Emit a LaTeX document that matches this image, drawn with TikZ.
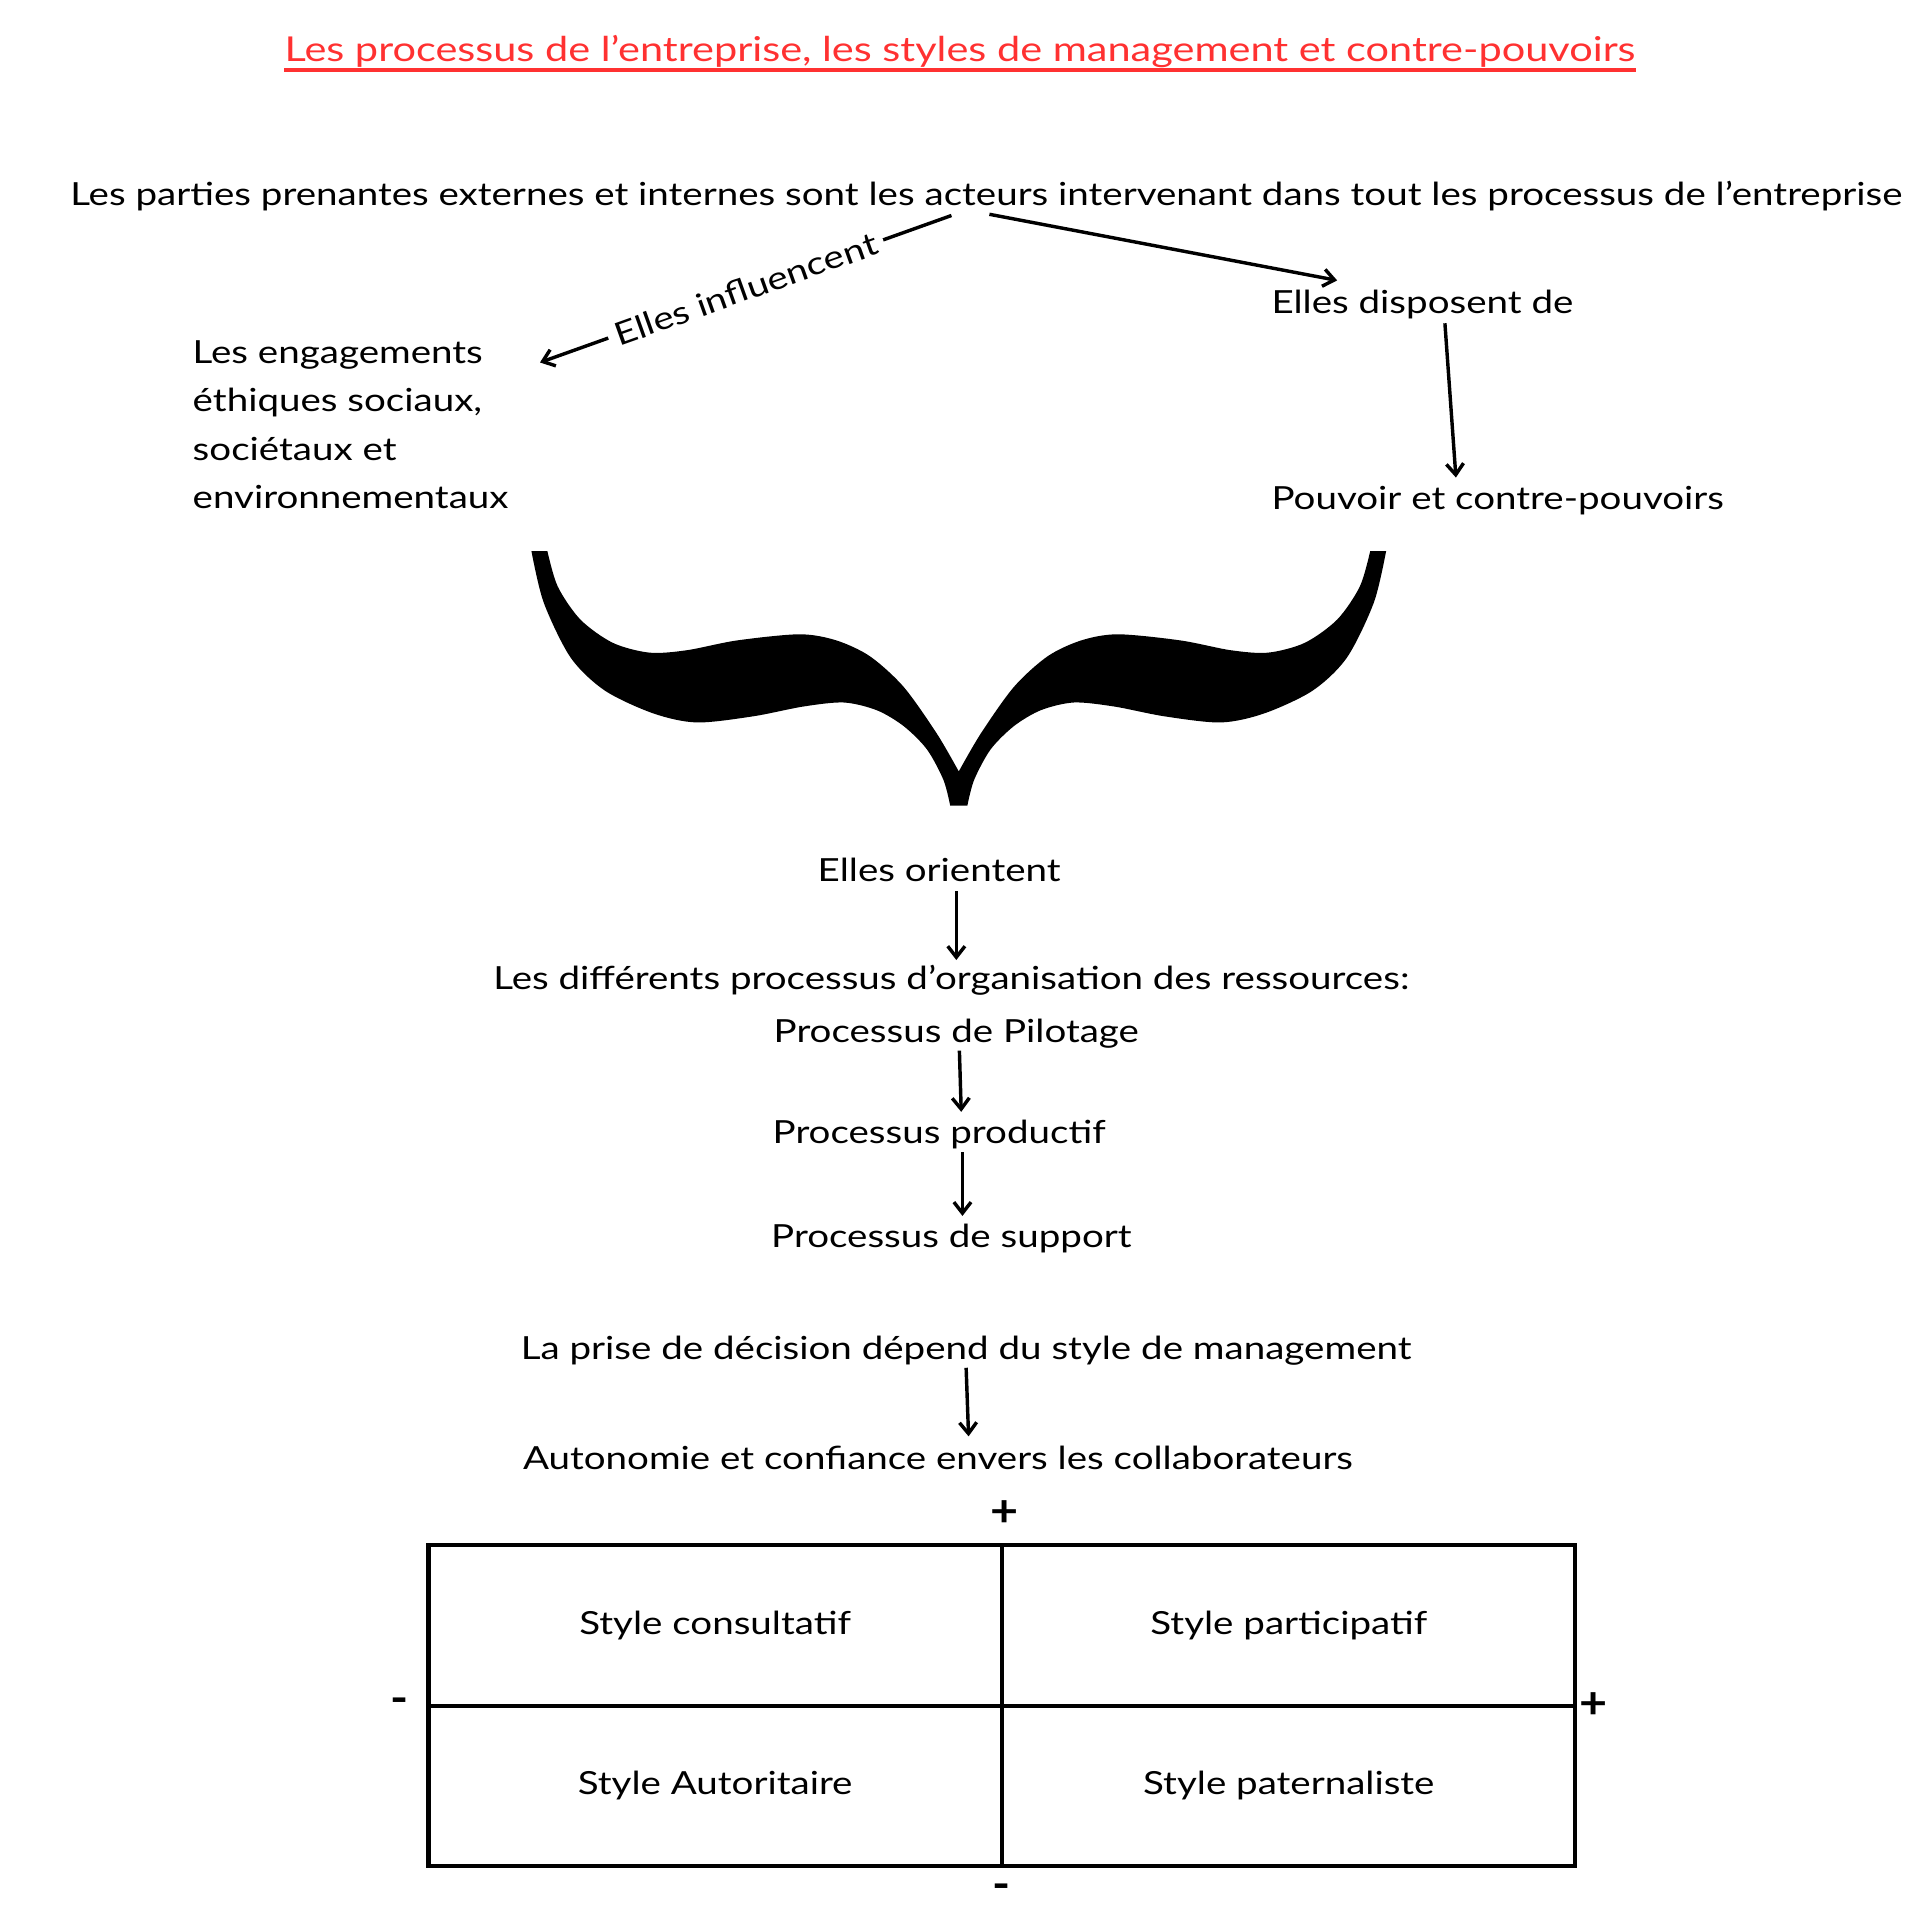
\documentclass[tikz,border=0pt]{standalone}
\usepackage{fontspec}
\setmainfont{Lato}[FakeStretch=1.21]
\newfontfamily\signfont{Lato}[FakeStretch=1.1]
\usetikzlibrary{arrows.meta}
\definecolor{titlered}{HTML}{FF3131}
\begin{document}
\begin{tikzpicture}[x=0.5pt,y=-0.5pt,
  txt/.style={inner sep=0pt, font=\fontsize{13pt}{19.65pt}\selectfont},
  conn/.style={line width=1.4pt, -{Straight Barb[length=4.5pt,width=7pt,line width=1.4pt]}},
  cell/.style={draw, line width=1.75pt, minimum width=234pt, minimum height=65.5pt, inner sep=0pt, font=\fontsize{13pt}{19.65pt}\selectfont},
  sign/.style={inner sep=0pt, font=\signfont\fontsize{18pt}{20pt}\selectfont\bfseries},
  ]
\useasboundingbox (0,0) rectangle (1568,1568);

% title
\node[txt, anchor=base, text=titlered, font=\fontsize{14pt}{16pt}\selectfont] (title) at (784,50) {Les processus de l’entreprise, les styles de management et contre-pouvoirs};
\draw[titlered, line width=1.4pt] ([yshift=-3.5pt]title.base west) -- ([yshift=-3.5pt]title.base east);

% texts
\node[txt, anchor=base west] (main) at (57,168) {Les parties prenantes externes et internes sont les acteurs intervenant dans tout les processus de l’entreprise};
\node[txt, anchor=base west] (disp) at (1038,256) {Elles disposent de};
\node[txt, anchor=base west] (pouv) at (1038,416) {Pouvoir et contre-pouvoirs};
\node[txt, anchor=base west, align=left] (eng) at (157,415) {Les engagements\\éthiques sociaux,\\sociétaux et\\environnementaux};
\node[txt, anchor=base] (orient) at (767,720) {Elles orientent};
\node[txt, anchor=base] (diff) at (777,808) {Les différents processus d’organisation des ressources:};
\node[txt, anchor=base] (pilot) at (781,851) {Processus de Pilotage};
\node[txt, anchor=base] (prod) at (767,934) {Processus productif};
\node[txt, anchor=base] (supp) at (777,1019) {Processus de support};
\node[txt, anchor=base] (decis) at (789,1110) {La prise de décision dépend du style de management};
\node[txt, anchor=base] (auto) at (766,1200) {Autonomie et confiance envers les collaborateurs};

% connector end points
\coordinate (mainL) at (777,176);
\coordinate (engR) at (441,296);
\coordinate (mainR) at (808,175);
\coordinate (dispW) at (1092,229);
\coordinate (dispS) at (1180,264);
\coordinate (pouvN) at (1189,390);
\coordinate (orientS) at (781,728);
\coordinate (diffN) at (781,784);
\coordinate (pilotS) at (783.5,858);
\coordinate (prodN) at (785,908);
\coordinate (prodS) at (786,941);
\coordinate (suppN) at (786,993);
\coordinate (decisS) at (789,1117);
\coordinate (autoN) at (791,1173);

\draw[conn] (mainL) -- node[sloped, txt, fill=white, inner xsep=3pt, inner ysep=1pt] (infl) {Elles influencent} (engR);
\draw[conn] (mainR) -- (dispW);
\draw[conn] (dispS) -- (pouvN);
\draw[conn] (orientS) -- (diffN);
\draw[conn] (pilotS) -- (prodN);
\draw[conn] (prodS) -- (suppN);
\draw[conn] (decisS) -- (autoN);

% brace
\fill[black]
  plot[smooth] coordinates {(434,450) (444,492) (466,537) (494,564) (533.5,582.6) (569,590) (615,585) (656,577) (689,573.7) (716,580) (738,593) (757,612) (770.5,637) (776,658)}
  -- plot[smooth] coordinates {(790,658) (795.5,637) (809,612) (828,593) (850,580) (877,573.7) (910,577) (951,585) (997,590) (1032.5,582.6) (1072,564) (1100,537) (1122,492) (1132,450)}
  -- plot[smooth] coordinates {(1119,450) (1110.5,479) (1092,506) (1065.5,525) (1035.5,533) (1005,531) (964,523) (913,518) (883,523) (855.5,536) (828,561) (801,599) (783,630)}
  -- plot[smooth] coordinates {(783,630) (765,599) (738,561) (710.5,536) (683,523) (653,518) (602,523) (561,531) (530.5,533) (500.5,525) (474,506) (455.5,479) (447,450)}
  -- cycle;

% table
\node[cell] (c11) at (584,1327.5) {Style consultatif};
\node[cell] (c12) at (1052.5,1327.5) {Style participatif};
\node[cell] (c21) at (584,1458.5) {Style Autoritaire};
\node[cell] (c22) at (1052.5,1458.5) {Style paternaliste};

\node[sign] (ptop) at (820,1236) {+};
\node[sign] (mleft) at (326,1393) {-};
\node[sign] (pright) at (1301,1393) {+};
\node[sign] (mbot) at (818,1545) {-};
\end{tikzpicture}
\end{document}
